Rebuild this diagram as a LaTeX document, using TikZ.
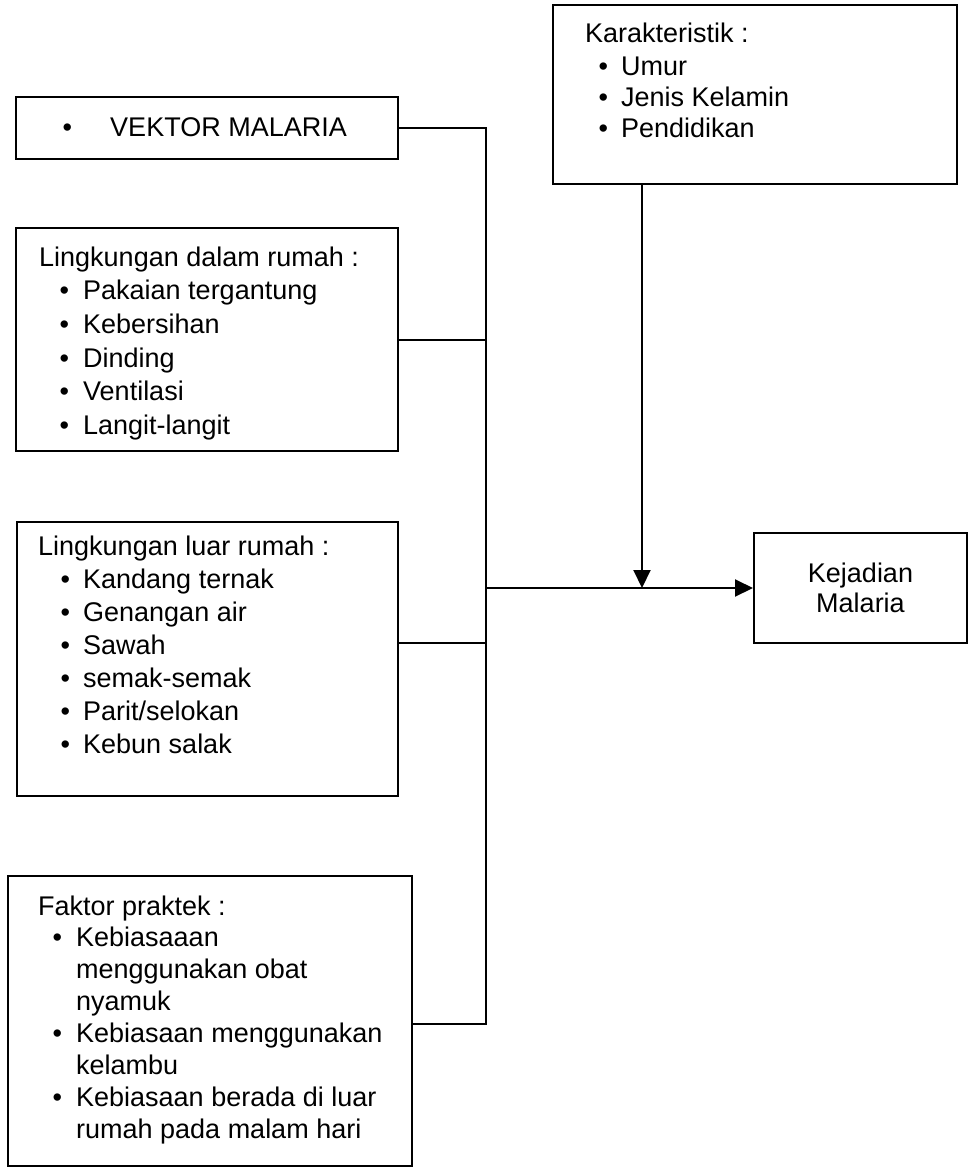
\documentclass[tikz,border=0pt]{standalone}
\usepackage{fontspec}
\setmainfont{Liberation Sans}
\usetikzlibrary{arrows.meta}
\newcommand\lstbox[2]{\parbox[t]{420pt}{\fontsize{27}{#1}\selectfont\raggedright #2}}
\newcommand\itm[3]{\hspace*{#1}\makebox[#2][l]{\textbullet}#3}
\begin{document}
\begin{tikzpicture}[x=1pt,y=-1pt,
  box/.style={draw,line width=2pt,inner sep=0pt,anchor=north west},
  txt/.style={inner sep=0pt,anchor=base west},
  conn/.style={line width=2pt},
  arr/.style={conn,-{Triangle[length=18pt,width=17pt]}}]
\useasboundingbox (0,0) rectangle (968,1168);
% boxes
\node[box,minimum width=382pt,minimum height=62pt] (vek) at (15,96) {};
\node[box,minimum width=382pt,minimum height=223pt] (dalam) at (15,227) {};
\node[box,minimum width=381pt,minimum height=274pt] (luar) at (16,521) {};
\node[box,minimum width=404pt,minimum height=290pt] (faktor) at (7,875) {};
\node[box,minimum width=404pt,minimum height=179pt] (kar) at (552,4) {};
\node[box,minimum width=213pt,minimum height=110pt,align=center,
  font=\fontsize{27}{30}\selectfont] (kej) at (753,532) {Kejadian\\Malaria};
% texts
\node[txt] (vekt) at (62.3,136) {\fontsize{27}{33}\selectfont\textbullet\hspace{38.3pt}VEKTOR MALARIA};
\node[txt] (dalamt) at (39,266) {\lstbox{33.7pt}{Lingkungan dalam rumah :\\
  \itm{20.3pt}{23.7pt}{Pakaian tergantung}\\
  \itm{20.3pt}{23.7pt}{Kebersihan}\\
  \itm{20.3pt}{23.7pt}{Dinding}\\
  \itm{20.3pt}{23.7pt}{Ventilasi}\\
  \itm{20.3pt}{23.7pt}{Langit-langit}}};
\node[txt] (luart) at (38,555) {\lstbox{33pt}{Lingkungan luar rumah :\\
  \itm{22.3pt}{22.7pt}{Kandang ternak}\\
  \itm{22.3pt}{22.7pt}{Genangan air}\\
  \itm{22.3pt}{22.7pt}{Sawah}\\
  \itm{22.3pt}{22.7pt}{semak-semak}\\
  \itm{22.3pt}{22.7pt}{Parit/selokan}\\
  \itm{22.3pt}{22.7pt}{Kebun salak}}};
\node[txt] (faktort) at (38,915) {\lstbox{31.9pt}{Faktor praktek :\\
  \itm{14.3pt}{23.7pt}{Kebiasaaan}\\
  \hspace*{38pt}menggunakan obat\\
  \hspace*{38pt}nyamuk\\
  \itm{14.3pt}{23.7pt}{Kebiasaan menggunakan}\\
  \hspace*{38pt}kelambu\\
  \itm{14.3pt}{23.7pt}{Kebiasaan berada di luar}\\
  \hspace*{38pt}rumah pada malam hari}};
\node[txt] (kart) at (585,42) {\lstbox{31pt}{Karakteristik :\\[2pt]
  \itm{13.3pt}{22.7pt}{Umur}\\
  \itm{13.3pt}{22.7pt}{Jenis Kelamin}\\
  \itm{13.3pt}{22.7pt}{Pendidikan}}};
% bus coordinates
\coordinate (btop) at (486,128);
\coordinate (bmid) at (486,588);
\coordinate (bluar) at (486,643);
\coordinate (bbot) at (486,1024);
\coordinate (dn) at (642,588);
% connectors
\draw[conn] (vek.east |- btop) -- (btop) -- (bbot) -- (faktor.east |- bbot);
\draw[conn] (dalam.east) -- (dalam.east -| btop);
\draw[conn] (luar.east |- bluar) -- (bluar);
\draw[arr] (bmid) -- (kej.west |- bmid);
\draw[arr] (kar.south -| dn) -- (dn);
\end{tikzpicture}
\end{document}
